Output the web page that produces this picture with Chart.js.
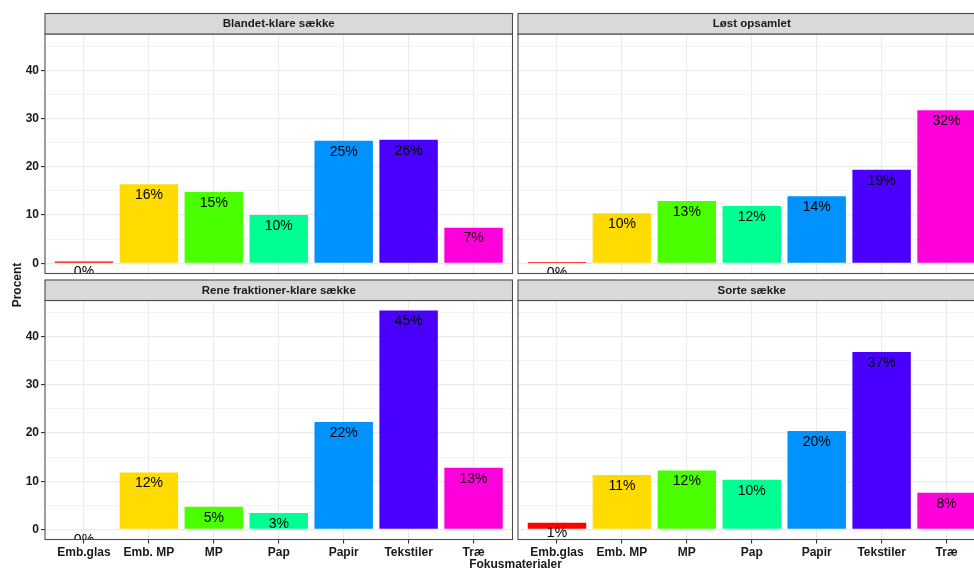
<!DOCTYPE html>
<html><head><meta charset="utf-8">
<script src="https://cdn.jsdelivr.net/npm/chart.js@4"></script>
<style>
html,body{margin:0;padding:0;overflow:hidden;background:#fff;width:974px;height:569px}
#wrap{position:absolute;left:0;top:0;width:990px;height:569px}
canvas{position:absolute;left:0;top:0}
</style></head><body>
<div id="wrap"></div>
<script>
// ---- data ----
const categories = ['Emb.glas','Emb. MP','MP','Pap','Papir','Tekstiler','Træ'];
const panelTitles = ['Blandet-klare sække','Løst opsamlet','Rene fraktioner-klare sække','Sorte sække'];
const blandetKlare   = [0.4, 16.4, 14.8, 10.0, 25.4, 25.6, 7.4];
const loestOpsamlet  = [0.3, 10.4, 12.9, 11.9, 13.9, 19.4, 31.7];
const reneFraktioner = [0.0, 11.8, 4.7, 3.4, 22.3, 45.4, 12.8];
const sorteSaekke    = [1.4, 11.3, 12.2, 10.3, 20.4, 36.8, 7.6];
const barColors = ['#FF0000','#FFDB00','#49FF00','#00FF92','#0092FF','#4900FF','#FF00DB'];
const yTickLabels = [0, 10, 20, 30, 40];
const yAxisTitle = 'Procent';
const xAxisTitle = 'Fokusmaterialer';

// ---- layout ----
const W = 990, H = 569;
const FONT = "'Liberation Sans', Arial, sans-serif";
const panels = [
  {values: blandetKlare,   title: panelTitles[0], left: 45,  right: 512.5, top: 34,    bottom: 273.5, yAxis: true,  xAxis: false},
  {values: loestOpsamlet,  title: panelTitles[1], left: 518, right: 985.5, top: 34,    bottom: 273.5, yAxis: false, xAxis: false},
  {values: reneFraktioner, title: panelTitles[2], left: 45,  right: 512.5, top: 300.5, bottom: 539.5, yAxis: true,  xAxis: true},
  {values: sorteSaekke,    title: panelTitles[3], left: 518, right: 985.5, top: 300.5, bottom: 539.5, yAxis: false, xAxis: true}
];
const STRIP_H = 20.5, Y_AXIS_W = 45, X_AXIS_H = 22;

const panelPlugin = {
  id: 'panelDecor',
  afterDatasetsDraw(chart) {
    const {ctx, chartArea: a} = chart;
    const meta = chart.getDatasetMeta(0);
    ctx.save();
    ctx.beginPath();
    ctx.rect(a.left, a.top, a.right - a.left, a.bottom - a.top);
    ctx.clip();
    ctx.fillStyle = '#000';
    ctx.font = '14px ' + FONT;
    ctx.textAlign = 'center';
    ctx.textBaseline = 'middle';
    const vals = chart.data.datasets[0].data;
    meta.data.forEach((el, i) => {
      ctx.fillText(Math.round(vals[i].y) + '%', el.x, el.y + 11);
    });
    ctx.restore();
  },
  afterDraw(chart) {
    const {ctx, chartArea: a} = chart;
    const opts = chart.options.plugins.panelDecor;
    ctx.save();
    ctx.strokeStyle = '#4d4d4d';
    ctx.lineWidth = 1.1;
    ctx.strokeRect(a.left, a.top, a.right - a.left, a.bottom - a.top);
    // strip
    ctx.fillStyle = '#d9d9d9';
    ctx.fillRect(a.left, a.top - STRIP_H, a.right - a.left, STRIP_H);
    ctx.strokeRect(a.left, a.top - STRIP_H, a.right - a.left, STRIP_H);
    ctx.fillStyle = '#1a1a1a';
    ctx.font = 'bold 11.5px ' + FONT;
    ctx.textAlign = 'center';
    ctx.textBaseline = 'middle';
    ctx.fillText(opts.title, (a.left + a.right) / 2, a.top - STRIP_H / 2 + 0.5);
    if (opts.yTitle) {
      ctx.save();
      ctx.translate(17.5, 285);
      ctx.rotate(-Math.PI / 2);
      ctx.font = 'bold 12px ' + FONT;
      ctx.fillText(opts.yTitle, 0, 0);
      ctx.restore();
    }
    if (opts.xTitle) {
      ctx.font = 'bold 12px ' + FONT;
      ctx.textBaseline = 'top';
      ctx.fillText(opts.xTitle, 515.5, 558.5);
    }
    ctx.restore();
  }
};

const wrap = document.getElementById('wrap');
panels.forEach((p, idx) => {
  const cv = document.createElement('canvas');
  cv.width = W; cv.height = H;
  cv.style.width = W + 'px'; cv.style.height = H + 'px';
  wrap.appendChild(cv);
  const yW = p.yAxis ? Y_AXIS_W : 0;
  const xH = p.xAxis ? X_AXIS_H : 0;
  new Chart(cv, {
    type: 'bar',
    data: {
      datasets: [{
        data: p.values.map((v, i) => ({x: i, y: v})),
        backgroundColor: barColors,
        borderWidth: 0,
        categoryPercentage: 0.9,
        barPercentage: 1.0
      }]
    },
    options: {
      responsive: false,
      animation: false,
      events: [],
      layout: {padding: {left: p.left - yW, right: W - p.right, top: p.top, bottom: H - p.bottom - xH}},
      plugins: {
        legend: {display: false},
        tooltip: {enabled: false},
        panelDecor: {title: p.title, yTitle: idx === 0 ? yAxisTitle : null, xTitle: idx === 2 ? xAxisTitle : null}
      },
      scales: {
        x: {
          type: 'linear',
          offset: false,
          min: -0.6, max: 6.6,
          afterBuildTicks: s => { s.ticks = categories.map((c, i) => ({value: i})); },
          afterFit: s => { s.height = xH; },
          border: {display: false},
          grid: {offset: false, color: '#ebebeb', lineWidth: 1.1, drawTicks: p.xAxis, tickLength: 4, tickColor: '#333333', tickWidth: 1.1},
          ticks: {
            display: p.xAxis, autoSkip: false, maxRotation: 0, padding: 2,
            color: '#1a1a1a', font: {family: FONT, size: 12, weight: 'bold'},
            callback: v => categories[v] !== undefined ? categories[v] : ''
          }
        },
        y: {
          min: -2.1, max: 47.5,
          afterBuildTicks: s => {
            const t = [];
            yTickLabels.forEach(v => { t.push({value: v}); t.push({value: v + 5}); });
            s.ticks = t;
          },
          afterFit: s => { s.width = yW; },
          border: {display: false},
          grid: {
            color: '#ebebeb',
            lineWidth: c => (c.tick && c.tick.value % 10 === 0) ? 1.2 : 0.6,
            drawTicks: p.yAxis, tickLength: 4,
            tickColor: c => (c.tick && c.tick.value % 10 === 0) ? '#333333' : 'rgba(0,0,0,0)',
            tickWidth: 1.1
          },
          ticks: {
            display: p.yAxis, padding: 2,
            color: '#1a1a1a', font: {family: FONT, size: 12, weight: 'bold'},
            callback: v => yTickLabels.includes(v) ? String(v) : ''
          }
        }
      }
    },
    plugins: [panelPlugin]
  });
});
</script>
</body></html>
